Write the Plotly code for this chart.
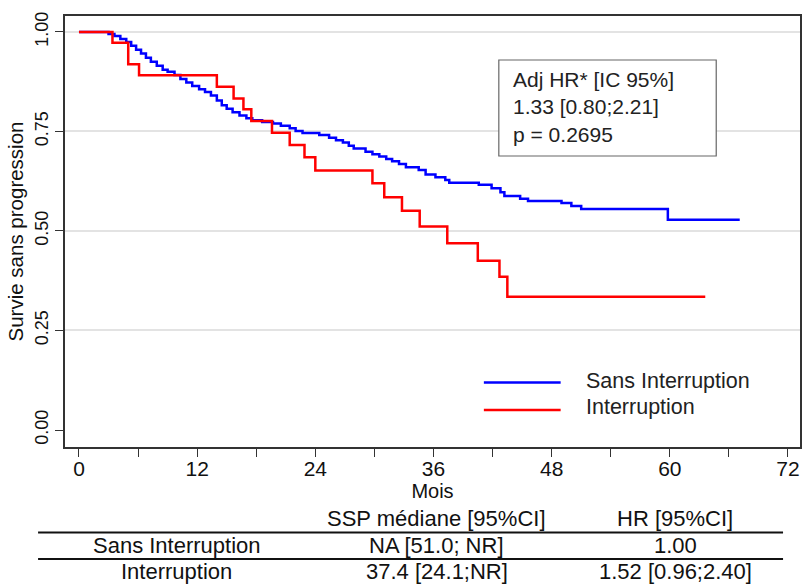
import plotly.graph_objects as go

# ---------------- data ----------------
# Kaplan-Meier steps (time in months, survival after the step)
sans_t = [0, 3.0, 3.6, 4.2, 4.8, 5.3, 5.8, 6.3, 6.8, 7.3, 7.9, 8.5, 9.0, 9.7, 10.3, 10.9,
          11.5, 12.2, 12.8, 13.4, 14.0, 14.5, 15.0, 15.6, 16.3, 17.0, 17.6, 18.6, 19.7,
          20.5, 21.4, 22.0, 22.7, 24.4, 25.4, 26.1, 26.8, 27.4, 27.9, 29.1, 29.8, 30.5,
          31.2, 31.8, 32.5, 33.2, 34.5, 35.2, 36.2, 37.2, 37.6, 40.6, 41.9, 42.8, 43.2,
          44.8, 45.6, 49.0, 50.0, 51.0, 59.8, 67.1]
sans_s = [1.0, 0.995, 0.990, 0.982, 0.975, 0.965, 0.955, 0.946, 0.935, 0.925, 0.915, 0.905,
          0.900, 0.892, 0.882, 0.873, 0.864, 0.856, 0.849, 0.840, 0.828, 0.816, 0.807, 0.798,
          0.790, 0.783, 0.778, 0.774, 0.770, 0.764, 0.758, 0.751, 0.746, 0.741, 0.734, 0.728,
          0.722, 0.714, 0.707, 0.699, 0.693, 0.687, 0.681, 0.675, 0.668, 0.660, 0.653, 0.642,
          0.635, 0.628, 0.621, 0.616, 0.607, 0.597, 0.588, 0.581, 0.575, 0.570, 0.563, 0.555,
          0.528, 0.528]

inter_t = [0, 3.4, 5.0, 6.1, 14.0, 15.7, 16.7, 17.5, 19.6, 21.4, 22.9, 24.0, 29.8, 31.0,
           32.8, 34.6, 37.4, 40.5, 42.7, 43.5, 63.6]
inter_s = [1.0, 0.973, 0.919, 0.891, 0.862, 0.833, 0.806, 0.776, 0.747, 0.716, 0.685, 0.652,
           0.620, 0.585, 0.551, 0.511, 0.469, 0.425, 0.385, 0.335, 0.335]

series_names = ["Sans Interruption", "Interruption"]
series_colors = ["#0000ff", "#ff0000"]

x_tickvals = [0, 6, 12, 18, 24, 30, 36, 42, 48, 54, 60, 66, 72]
x_ticktext = ["0", "", "12", "", "24", "", "36", "", "48", "", "60", "", "72"]
y_tickvals = [0, 0.25, 0.5, 0.75, 1.0]
y_ticktext = ["0.00", "0.25", "0.50", "0.75", "1.00"]

box_lines = ["Adj HR* [IC 95%]", "1.33 [0.80;2.21]", "p = 0.2695"]

table_header = ["", "SSP médiane [95%CI]", "HR [95%CI]"]
table_rows = [["Sans Interruption", "NA [51.0; NR]", "1.00"],
              ["Interruption", "37.4 [24.1;NR]", "1.52 [0.96;2.40]"]]

# ---------------- layout helpers (pixel -> paper) ----------------
W, H = 804, 584
PL, PR, PT, PB = 65, 802, 16, 447


def xp(px):
    return (px - PL) / (PR - PL)


def yp(py):
    return (PB - py) / (PB - PT)


FONT = "Liberation Sans, Arial, Helvetica, sans-serif"

fig = go.Figure()
for t, s, name, col in [(sans_t, sans_s, series_names[0], series_colors[0]),
                        (inter_t, inter_s, series_names[1], series_colors[1])]:
    fig.add_trace(go.Scatter(x=t, y=s, mode="lines", name=name,
                             line=dict(color=col, width=2.5, shape="hv"),
                             showlegend=False, hoverinfo="skip"))

shapes = []
annotations = []

# statistics box
shapes.append(dict(type="rect", xref="paper", yref="paper",
                   x0=xp(500), x1=xp(718), y0=yp(156), y1=yp(60),
                   line=dict(color="#666666", width=1.2), fillcolor="white", layer="above"))
annotations.append(dict(xref="paper", yref="paper", x=xp(512), y=yp(107),
                        xanchor="left", yanchor="middle", align="left", showarrow=False,
                        text="<br>".join(box_lines),
                        font=dict(family=FONT, size=21, color="#222222")))

# legend (drawn manually to match long line samples)
leg_line_y = [382.5, 410]
leg_text_y = [381, 407]
for i in range(2):
    shapes.append(dict(type="line", xref="paper", yref="paper",
                       x0=xp(485), x1=xp(562), y0=yp(leg_line_y[i]), y1=yp(leg_line_y[i]),
                       line=dict(color=series_colors[i], width=2.5)))
    annotations.append(dict(xref="paper", yref="paper", x=xp(585), y=yp(leg_text_y[i]),
                            xanchor="left", yanchor="middle", showarrow=False,
                            text=series_names[i],
                            font=dict(family=FONT, size=21.5, color="#222222")))

# table below the chart
col_x = [177, 438, 677]
row_y = [518, 545.5, 571.5]
for j, txt in enumerate(table_header):
    if txt:
        annotations.append(dict(xref="paper", yref="paper", x=xp(col_x[j]), y=yp(row_y[0]),
                                xanchor="center", yanchor="middle", showarrow=False, text=txt,
                                font=dict(family=FONT, size=22, color="#111111")))
for i, row in enumerate(table_rows):
    for j, txt in enumerate(row):
        annotations.append(dict(xref="paper", yref="paper", x=xp(col_x[j]), y=yp(row_y[i + 1]),
                                xanchor="center", yanchor="middle", showarrow=False, text=txt,
                                font=dict(family=FONT, size=22, color="#111111")))
for ly in [532.5, 559]:
    shapes.append(dict(type="line", xref="paper", yref="paper",
                       x0=xp(38), x1=xp(785), y0=yp(ly), y1=yp(ly),
                       line=dict(color="#111111", width=2)))

fig.update_layout(
    width=W, height=H,
    margin=dict(l=PL, r=W - PR, t=PT, b=H - PB, pad=0),
    paper_bgcolor="white", plot_bgcolor="white",
    shapes=shapes, annotations=annotations,
    showlegend=False,
)
fig.update_xaxes(
    range=[-1.42, 73.22], tickmode="array", tickvals=x_tickvals, ticktext=x_ticktext,
    ticks="outside", ticklen=8, tickwidth=1.2, tickcolor="#333333",
    ticklabelstandoff=-6,
    showgrid=False, zeroline=False,
    showline=True, linecolor="#333333", linewidth=1.5, mirror=True,
    tickfont=dict(family=FONT, size=21, color="#111111"),
    title=dict(text="Mois", font=dict(family=FONT, size=20, color="#111111"), standoff=0),
)
fig.update_yaxes(
    range=[-0.0427, 1.040], tickmode="array", tickvals=y_tickvals, ticktext=y_ticktext,
    tickangle=-90, ticks="outside", ticklen=8, tickwidth=1.2, tickcolor="#333333",
    showgrid=True, gridcolor="#e3e3e3", gridwidth=2,
    zeroline=True, zerolinecolor="white", zerolinewidth=2,
    showline=True, linecolor="#333333", linewidth=1.5, mirror=True,
    tickfont=dict(family=FONT, size=18, color="#111111"),
    title=dict(text="Survie sans progression", font=dict(family=FONT, size=20.5, color="#111111"),
               standoff=3),
)

fig.write_html("out.html")
